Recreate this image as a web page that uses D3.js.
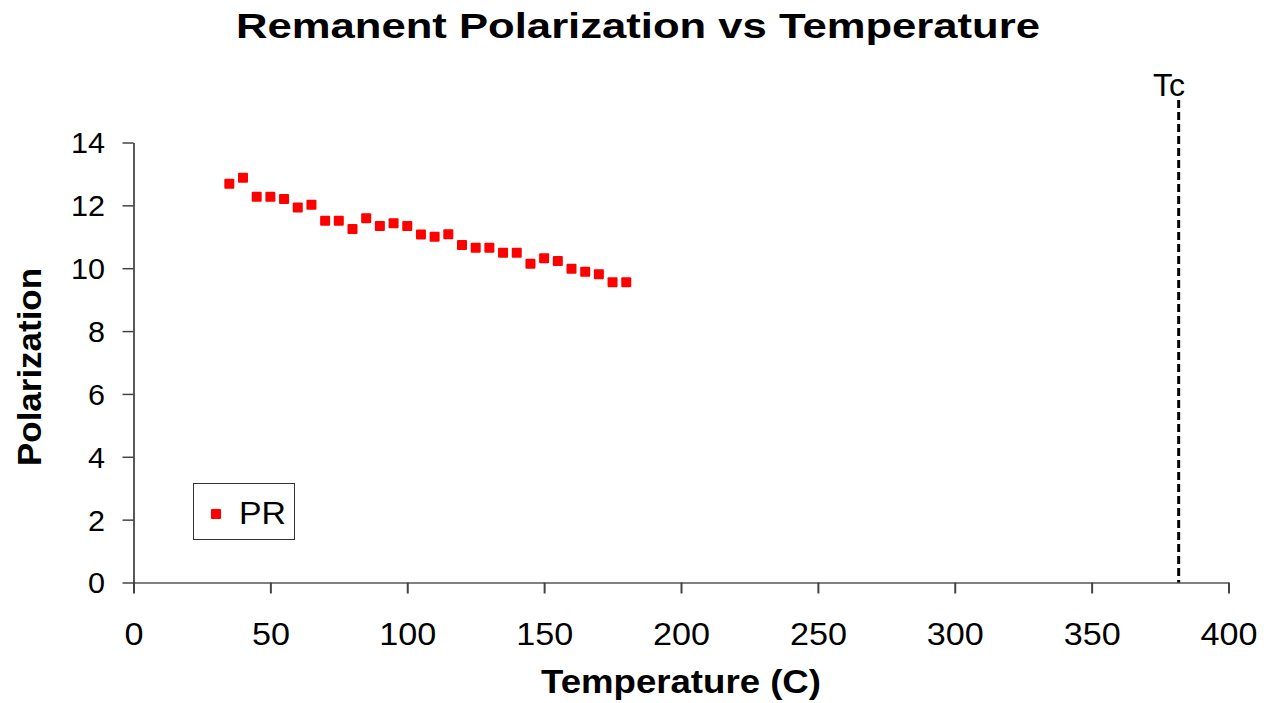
<!DOCTYPE html>
<html><head><meta charset="utf-8">
<script src="https://cdn.jsdelivr.net/npm/d3@7"></script>
<style>body{margin:0;background:#fff}svg{display:block}text{font-family:"Liberation Sans",Arial,sans-serif}</style>
</head><body><svg id="c" width="1264" height="703"></svg>
<script>
const temps = [35,40,45,50,55,60,65,70,75,80,85,90,95,100,105,110,115,120,125,130,135,140,145,150,155,160,165,170,175,180];
const pr = [12.69,12.88,12.27,12.27,12.2,11.93,12.02,11.51,11.51,11.25,11.59,11.34,11.43,11.34,11.07,11.0,11.08,10.74,10.65,10.65,10.49,10.49,10.14,10.32,10.23,9.98,9.89,9.81,9.55,9.55];
const xTicks = [0,50,100,150,200,250,300,350,400];
const yTicks = [0,2,4,6,8,10,12,14];
const tc = 381.8;
const seriesName = "PR";

const svg = d3.select("#c");
const x = d3.scaleLinear().domain([0,400]).range([133.5,1228.5]);
const y = d3.scaleLinear().domain([0,14]).range([582.5,142.5]);
const FF = "Liberation Sans, Arial, sans-serif";

// title
svg.append("text").attr("x",638).attr("y",38).attr("text-anchor","middle")
  .attr("font-size",35).attr("font-weight","bold")
  .attr("textLength",804).attr("lengthAdjust","spacingAndGlyphs")
  .text("Remanent Polarization vs Temperature");

// x axis
const xa = svg.append("g").attr("transform",`translate(0,${y(0)})`)
  .call(d3.axisBottom(x).tickValues(xTicks).tickSize(11).tickSizeOuter(0));
xa.select(".domain").attr("stroke","#808080").attr("stroke-width",2);
xa.selectAll(".tick line").attr("stroke","#444").attr("stroke-width",2);
xa.selectAll(".tick text").attr("font-size",32).attr("fill","#000").attr("font-family",FF)
  .attr("y",62.5).attr("dy",0)
  .attr("textLength",d=>String(d).length*19).attr("lengthAdjust","spacingAndGlyphs");

// y axis
const ya = svg.append("g").attr("transform",`translate(${x(0)},0)`)
  .call(d3.axisLeft(y).tickValues(yTicks).tickSize(11).tickSizeOuter(0));
ya.select(".domain").attr("stroke","#222").attr("stroke-width",1.5);
ya.selectAll(".tick line").attr("stroke","#444").attr("stroke-width",1.5);
ya.selectAll(".tick text").attr("font-size",29).attr("fill","#000").attr("font-family",FF)
  .attr("x",-28.5).attr("dy","0.36em")
  .attr("textLength",d=>String(d).length*17).attr("lengthAdjust","spacingAndGlyphs");

// axis titles
svg.append("text").attr("x",681).attr("y",693).attr("text-anchor","middle")
  .attr("font-size",33).attr("font-weight","bold")
  .attr("textLength",280).attr("lengthAdjust","spacingAndGlyphs").text("Temperature (C)");
svg.append("text").attr("transform","translate(41,367) rotate(-90)").attr("text-anchor","middle")
  .attr("font-size",33).attr("font-weight","bold")
  .attr("textLength",198).attr("lengthAdjust","spacingAndGlyphs").text("Polarization");

// Tc line
svg.append("line").attr("x1",x(tc)).attr("x2",x(tc)).attr("y1",100).attr("y2",y(0))
  .attr("stroke","#000").attr("stroke-width",3).attr("stroke-dasharray","8,4");
svg.append("text").attr("x",1169).attr("y",96).attr("text-anchor","middle")
  .attr("font-size",32).attr("textLength",32).attr("lengthAdjust","spacingAndGlyphs").text("Tc");

// points
svg.append("g").selectAll("rect").data(temps).join("rect")
  .attr("x",(d)=>x(d)-5).attr("y",(d,i)=>y(pr[i])-5).attr("width",10).attr("height",10)
  .attr("rx",1).attr("fill","#ff0000");

// legend
svg.append("rect").attr("x",193.5).attr("y",483.5).attr("width",101).attr("height",56)
  .attr("fill","#fff").attr("stroke","#333").attr("stroke-width",1);
svg.append("rect").attr("x",211).attr("y",509).attr("width",10).attr("height",10).attr("rx",1).attr("fill","#ff0000");
svg.append("text").attr("x",239).attr("y",524).attr("font-size",32)
  .attr("textLength",47).attr("lengthAdjust","spacingAndGlyphs").text(seriesName);
</script></body></html>
